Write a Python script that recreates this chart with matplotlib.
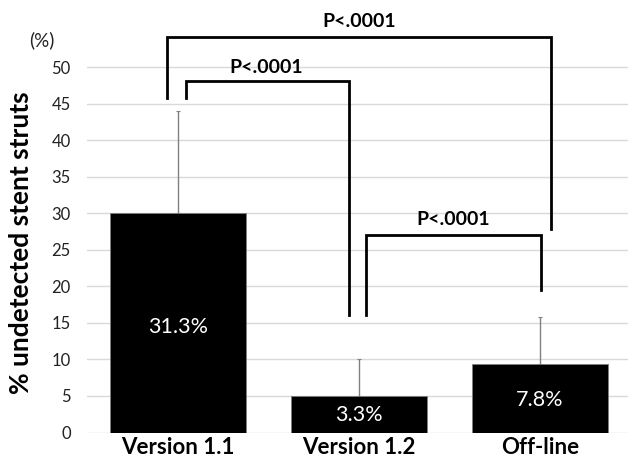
# Bar chart of undetected stent struts by version, with significance brackets.

import matplotlib
matplotlib.use("Agg")
import matplotlib.pyplot as plt

# Data
CATEGORIES = ["Version 1.1", "Version 1.2", "Off-line"]
MEANS = [30.0, 5.0, 9.4]
SD_UPPER = [14.0, 5.0, 6.4]
BAR_LABELS = ["31.3%", "3.3%", "7.8%"]
LABEL_Y = [14.5, 2.4, 4.45]
Y_TICKS = [0, 5, 10, 15, 20, 25, 30, 35, 40, 45, 50]

# Brackets: (x_left, x_right, y_left_bottom, y_right_bottom, y_top, label x, label y)
BRACKETS = [
    (-0.06, 2.06, 45.7, 27.8, 54.1, 1.0, 56.2),
    (0.045, 0.947, 45.7, 16.1, 48.1, 0.49, 50.0),
    (1.038, 2.005, 16.1, 19.5, 27.0, 1.52, 29.1),
]
P_TEXT = "P<.0001"

FONT = ["Lato", "DejaVu Sans"]
plt.rcParams["font.family"] = FONT


def main():
    fig = plt.figure(figsize=(6.28, 4.61), dpi=100)
    ax = fig.add_axes([0.139, 0.0618, 0.861, 0.872])

    x = list(range(len(CATEGORIES)))
    ax.bar(x, MEANS, width=0.75, color="black", edgecolor="#7f7f7f",
           linewidth=0.6, zorder=3)
    ax.errorbar(x, MEANS, yerr=[[0] * len(x), SD_UPPER], fmt="none",
                ecolor="#808080", elinewidth=1.0, capsize=1.5,
                capthick=0.8, zorder=2)

    for xi, lab, ly in zip(x, BAR_LABELS, LABEL_Y):
        ax.text(xi, ly, lab, color="white", fontsize=15.5, ha="center",
                va="center", zorder=4)

    for xl, xr, yl, yr, yt, tx, ty in BRACKETS:
        ax.plot([xl, xl, xr, xr], [yl, yt, yt, yr], color="black", lw=2.0,
                solid_joinstyle="miter", clip_on=False, zorder=5)
        ax.text(tx, ty, P_TEXT, fontsize=14, fontweight="bold",
                ha="center", va="center", clip_on=False)

    ax.set_xlim(-0.5, 2.487)
    ax.set_ylim(0, 55)
    ax.set_yticks(Y_TICKS)
    ax.set_xticks(x)
    ax.set_xticklabels(CATEGORIES, fontsize=16, fontweight="bold")
    ax.tick_params(axis="y", length=0, labelsize=12, labelcolor="#222222",
                   pad=12)
    ax.tick_params(axis="x", length=0, pad=3)
    ax.grid(axis="y", color="#d9d9d9", linewidth=1.0, zorder=0)
    ax.set_axisbelow(True)
    for s in ax.spines.values():
        s.set_visible(False)

    ax.set_ylabel("% undetected stent struts", fontsize=19,
                  fontweight="bold")
    ax.yaxis.set_label_coords(-0.100, 0.473)
    fig.text(0.066, 0.913, "(%)", fontsize=13.5, ha="center", va="center",
             color="#222222")

    fig.savefig("out.png", dpi=100)
    plt.close(fig)


if __name__ == "__main__":
    main()
